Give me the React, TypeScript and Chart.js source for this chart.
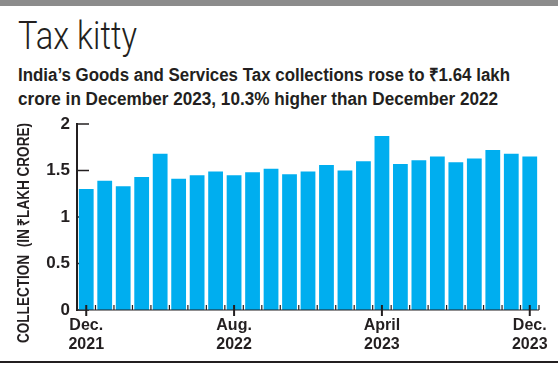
import React, { useEffect, useRef } from "react";
import { Chart, registerables } from "chart.js";

Chart.register(...registerables);

const months = [
  "Dec. 2021", "Jan. 2022", "Feb. 2022", "Mar. 2022", "Apr. 2022", "May 2022", "Jun. 2022", "Jul. 2022",
  "Aug. 2022", "Sep. 2022", "Oct. 2022", "Nov. 2022", "Dec. 2022", "Jan. 2023", "Feb. 2023", "Mar. 2023",
  "Apr. 2023", "May 2023", "Jun. 2023", "Jul. 2023", "Aug. 2023", "Sep. 2023", "Oct. 2023", "Nov. 2023", "Dec. 2023",
];
const collections = [
  1.30, 1.39, 1.33, 1.43, 1.68, 1.41, 1.45, 1.49, 1.45, 1.48, 1.52, 1.46, 1.49, 1.56, 1.50, 1.60,
  1.87, 1.57, 1.61, 1.65, 1.59, 1.63, 1.72, 1.68, 1.65,
];
const tickLabels: Record<number, string[]> = {
  0: ["Dec.", "2021"],
  8: ["Aug.", "2022"],
  16: ["April", "2023"],
  24: ["Dec.", "2023"],
};
const yTicks = [0, 0.5, 1, 1.5, 2];
const yTitle = "COLLECTION  (IN ₹LAKH CRORE)";

const INK = "#231f20";
const BAR = "#00aeef";
const FONT = "'Liberation Sans', Arial, sans-serif";

const axisPlugin = {
  id: "customAxes",
  beforeDatasetsDraw(chart: any) {
    const { ctx } = chart;
    const y = chart.scales.y;
    const left = chart.chartArea.left;
    ctx.save();
    ctx.strokeStyle = INK;
    ctx.lineWidth = 1.5;
    yTicks.forEach((v) => {
      const py = y.getPixelForValue(v);
      ctx.beginPath();
      ctx.moveTo(left, py);
      ctx.lineTo(left + 12, py);
      ctx.stroke();
    });
    ctx.restore();
  },
  afterDatasetsDraw(chart: any) {
    const { ctx } = chart;
    const x = chart.scales.x;
    const y = chart.scales.y;
    const { left, right } = chart.chartArea;
    const base = y.getPixelForValue(0);
    const top = y.getPixelForValue(2);
    ctx.save();
    ctx.strokeStyle = INK;
    ctx.lineWidth = 2;
    ctx.beginPath();
    ctx.moveTo(left, top - 1);
    ctx.lineTo(left, base + 1);
    ctx.stroke();
    ctx.lineWidth = 1.2;
    ctx.beginPath();
    ctx.moveTo(left, base);
    ctx.lineTo(right, base);
    ctx.stroke();
    const step = x.getPixelForValue(1) - x.getPixelForValue(0);
    for (let i = 0; i <= months.length; i++) {
      const px = x.getPixelForValue(i) - step / 2;
      ctx.beginPath();
      ctx.moveTo(px, base);
      ctx.lineTo(px, base - 5);
      ctx.stroke();
    }
    ctx.lineWidth = 2;
    Object.keys(tickLabels).forEach((k) => {
      const px = x.getPixelForValue(Number(k));
      ctx.beginPath();
      ctx.moveTo(px, base - 5);
      ctx.lineTo(px, base + 6);
      ctx.stroke();
    });
    // rotated y-axis title
    ctx.translate(25, 233);
    ctx.rotate(-Math.PI / 2);
    ctx.fillStyle = INK;
    ctx.font = `bold 16px ${FONT}`;
    ctx.textAlign = "center";
    ctx.textBaseline = "middle";
    const w = ctx.measureText(yTitle).width;
    const sx = 220 / w;
    ctx.scale(sx, 1);
    ctx.fillText(yTitle, 0, 0);
    ctx.restore();
  },
};

export default function App() {
  const ref = useRef<HTMLCanvasElement>(null);
  const titleRef = useRef<HTMLDivElement>(null);
  const l1Ref = useRef<HTMLSpanElement>(null);
  const l2Ref = useRef<HTMLSpanElement>(null);
  useEffect(() => {
    document.body.style.margin = "0";
    const fit = (el: HTMLElement | null, target: number) => {
      if (!el) return;
      const w = el.getBoundingClientRect().width;
      if (w > 0) el.style.transform = `scaleX(${target / w})`;
    };
    fit(titleRef.current, 119);
    fit(l1Ref.current, 492);
    fit(l2Ref.current, 480);

    const chart = new Chart(ref.current!, {
      type: "bar",
      data: {
        labels: months,
        datasets: [
          {
            data: collections,
            backgroundColor: BAR,
            barPercentage: 0.8,
            categoryPercentage: 1.0,
          },
        ],
      },
      options: {
        animation: false,
        responsive: false,
        layout: { autoPadding: false, padding: { top: 124, right: 19, left: 0, bottom: 0 } },
        plugins: { legend: { display: false }, tooltip: { enabled: false } },
        scales: {
          x: {
            grid: { display: false, drawTicks: false },
            border: { display: false },
            afterFit: (s: any) => {
              s.height = 58;
            },
            ticks: {
              autoSkip: false,
              maxRotation: 0,
              minRotation: 0,
              padding: 6,
              color: INK,
              font: { family: FONT, size: 16, weight: "bold", lineHeight: 1.2 },
              callback: (_v: any, i: number) => tickLabels[i] || "",
            },
          },
          y: {
            min: 0,
            max: 2,
            grid: { display: false, drawTicks: false },
            border: { display: false },
            afterFit: (s: any) => {
              s.width = 77;
            },
            afterBuildTicks: (s: any) => {
              s.ticks = yTicks.map((v) => ({ value: v }));
            },
            ticks: {
              padding: 7,
              color: INK,
              font: { family: FONT, size: 17, weight: "bold" },
              callback: (v: any) => String(v),
            },
          },
        },
      },
      plugins: [axisPlugin],
    });
    return () => chart.destroy();
  }, []);

  const lineStyle: React.CSSProperties = {
    display: "inline-block",
    transformOrigin: "left top",
    whiteSpace: "nowrap",
  };

  return (
    <div style={{ position: "relative", width: 558, height: 368, background: "#fff", overflow: "hidden" }}>
      <div style={{ position: "absolute", left: 0, top: 0, width: 558, height: 6, background: "#8c8c8c" }} />
      <div
        ref={titleRef}
        style={{
          position: "absolute",
          left: 18,
          top: 12,
          fontFamily: "Roboto, sans-serif",
          fontWeight: 300,
          fontSize: 39,
          color: INK,
          lineHeight: "48px",
          whiteSpace: "nowrap",
          transformOrigin: "left top",
        }}
      >
        Tax kitty
      </div>
      <div
        style={{
          position: "absolute",
          left: 18,
          top: 63,
          fontFamily: FONT,
          fontWeight: 700,
          fontSize: 18,
          color: INK,
          lineHeight: "24px",
        }}
      >
        <span ref={l1Ref} style={lineStyle}>India’s Goods and Services Tax collections rose to ₹1.64 lakh</span>
        <br />
        <span ref={l2Ref} style={lineStyle}>crore in December 2023, 10.3% higher than December 2022</span>
      </div>
      <canvas ref={ref} width={558} height={368} style={{ position: "absolute", left: 0, top: 0 }} />
      <div style={{ position: "absolute", left: 0, top: 361, width: 558, height: 2, background: INK }} />
    </div>
  );
}
